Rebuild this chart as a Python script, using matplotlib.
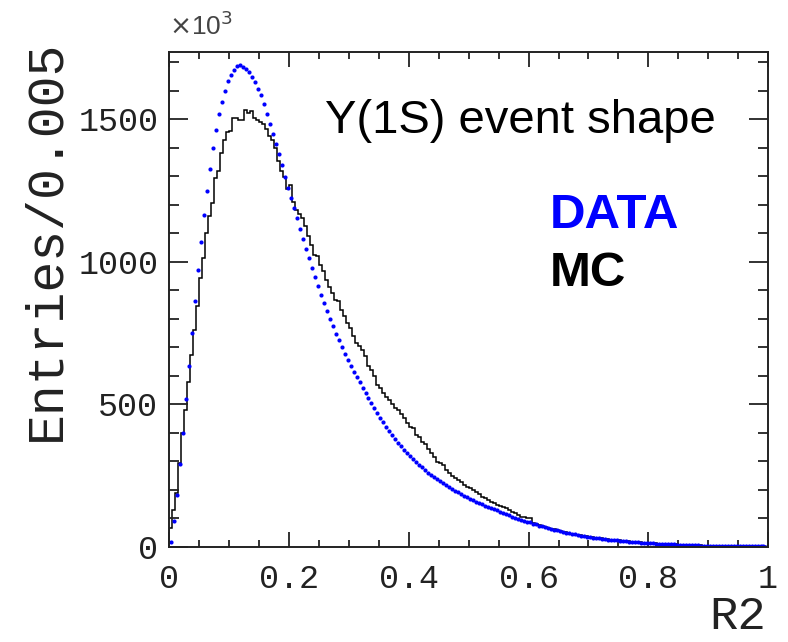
import numpy as np
import matplotlib
matplotlib.use("Agg")
import matplotlib.pyplot as plt
from matplotlib.ticker import MultipleLocator, FuncFormatter

# R2 histogram, 200 bins of width 0.005, entries in units of 10^3
bin_width = 0.005
n_bins = 200

data_counts = [
    19, 90, 182, 290, 400, 519, 636, 750, 862, 970,
    1070, 1164, 1248, 1326, 1399, 1462, 1517, 1560, 1599, 1632,
    1656, 1672, 1685, 1690, 1684, 1676, 1665, 1649, 1630, 1607,
    1583, 1551, 1519, 1484, 1449, 1414, 1377, 1338, 1297, 1258,
    1222, 1187, 1152, 1116, 1081, 1046, 1012, 978, 946, 914,
    884, 856, 828, 800, 774, 748, 724, 701, 678, 656,
    635, 615, 596, 577, 559, 540, 523, 505, 487, 470,
    453, 437, 421, 406, 392, 378, 365, 353, 341, 330,
    319, 309, 299, 289, 279, 270, 261, 253, 245, 237,
    230, 223, 216, 209, 203, 197, 191, 185, 179, 174,
    169, 164, 159, 154, 149, 145, 140, 136, 132, 128,
    124, 120, 116, 112, 106, 103, 99, 96, 92, 89,
    86, 82, 79, 75, 72, 69, 66, 63, 60, 58,
    55, 52, 50, 48, 46, 44, 42, 40, 38, 36,
    35, 33, 32, 30, 29, 27, 26, 25, 24, 23,
    22, 21, 20, 19, 18, 17, 16, 15, 15, 14,
    13, 13, 12, 12, 11, 10, 10, 9, 9, 8,
    8, 7, 7, 7, 6, 6, 6, 5, 5, 5,
    5, 4, 4, 4, 4, 4, 3, 3, 3, 3,
    3, 3, 2, 2, 2, 2, 2, 2, 2, 1,
]

mc_counts = [
    67, 130, 190, 294, 399, 481, 580, 674, 761, 843,
    943, 1013, 1101, 1159, 1206, 1294, 1317, 1381, 1428, 1454,
    1457, 1504, 1504, 1498, 1498, 1533, 1522, 1528, 1504, 1496,
    1490, 1484, 1466, 1442, 1425, 1397, 1352, 1317, 1297, 1255,
    1270, 1210, 1182, 1168, 1153, 1125, 1089, 1060, 1025, 1019,
    989, 966, 937, 913, 890, 867, 861, 832, 808, 785,
    767, 738, 715, 703, 691, 668, 633, 621, 598, 568,
    557, 540, 527, 516, 500, 487, 481, 466, 452, 435,
    420, 416, 393, 387, 369, 360, 345, 329, 317, 299,
    295, 288, 270, 259, 250, 241, 235, 229, 218, 212,
    206, 200, 194, 185, 176, 170, 165, 159, 153, 147,
    145, 140, 136, 130, 124, 118, 112, 106, 104, 101,
    101, 84, 80, 77, 74, 71, 67, 64, 62, 59,
    56, 54, 51, 49, 47, 45, 43, 41, 39, 37,
    36, 34, 33, 31, 30, 28, 27, 26, 25, 24,
    23, 22, 21, 20, 19, 18, 17, 16, 15, 15,
    14, 13, 13, 12, 11, 11, 10, 10, 9, 9,
    8, 8, 7, 7, 7, 6, 6, 6, 5, 5,
    5, 5, 4, 4, 4, 4, 3, 3, 3, 3,
    3, 3, 2, 2, 2, 2, 2, 2, 2, 1,
]

edges = np.arange(n_bins + 1) * bin_width
centers = edges[:-1] + bin_width / 2

mono = 'Liberation Mono'
sans = 'Liberation Sans'

fig = plt.figure(figsize=(7.88, 6.42), dpi=100)
ax = fig.add_axes([0.2151, 0.148, 0.7595, 0.771])

# MC as step histogram, DATA as dots
ax.stairs(mc_counts, edges, color='black', lw=1.1, baseline=0)
ax.plot(centers, data_counts, 'o', color='#0000ff', ms=3.0, mec='none')

ax.set_xlim(0, 1)
ax.set_ylim(0, 1735)

ax.xaxis.set_major_locator(MultipleLocator(0.2))
ax.xaxis.set_minor_locator(MultipleLocator(0.05))
ax.yaxis.set_major_locator(MultipleLocator(500))
ax.yaxis.set_minor_locator(MultipleLocator(100))
ax.xaxis.set_major_formatter(FuncFormatter(lambda v, p: '%g' % round(v, 2)))

ax.tick_params(axis='both', which='both', direction='in', top=True, right=True,
               width=1.3, colors='#222222')
ax.tick_params(axis='x', which='major', length=11, pad=12)
ax.tick_params(axis='x', which='minor', length=5)
ax.tick_params(axis='y', which='major', length=14, pad=8)
ax.tick_params(axis='y', which='minor', length=7)
for lab in ax.get_xticklabels() + ax.get_yticklabels():
    lab.set_fontfamily(mono)
    lab.set_fontsize(24)
    lab.set_color('#222222')
for sp in ax.spines.values():
    sp.set_linewidth(1.4)
    sp.set_color('#222222')

fig.text(0.058, 0.938, 'Entries/0.005', rotation=90, ha='center', va='top',
         fontfamily=mono, fontsize=37, color='#222222')
fig.text(0.972, 0.004, 'R2', ha='right', va='bottom',
         fontfamily=mono, fontsize=34, color='#222222')
fig.text(0.2151, 0.937, r'$\times$10$^{3}$', ha='left', va='bottom',
         fontfamily=sans, fontsize=19, color='#444444')

ax.text(0.26, 0.836, 'Y(1S) event shape', transform=ax.transAxes,
        fontfamily=sans, fontsize=34, color='black')
ax.text(0.635, 0.645, 'DATA', transform=ax.transAxes,
        fontfamily=sans, fontsize=35.5, fontweight='bold', color='#0000ff')
ax.text(0.635, 0.527, 'MC', transform=ax.transAxes,
        fontfamily=sans, fontsize=35.5, fontweight='bold', color='black')

fig.savefig('out.png', dpi=100)
